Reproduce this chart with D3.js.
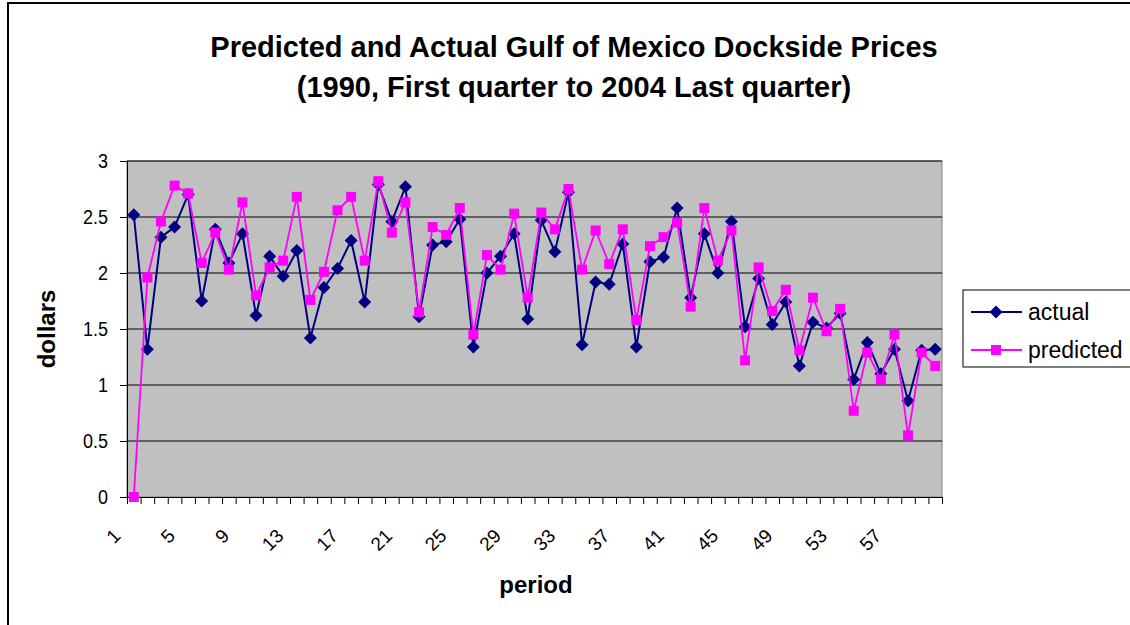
<!DOCTYPE html>
<html>
<head>
<meta charset="utf-8">
<script src="https://cdn.jsdelivr.net/npm/d3@7"></script>
<style>
  body { margin: 0; background: #fff; }
  text { font-family: "Liberation Sans", Arial, sans-serif; }
</style>
</head>
<body>
<script>
// data
const periods = d3.range(1, 61);
const tickLabels = periods.filter((p) => (p - 1) % 4 === 0);
const yTicks = [0, 0.5, 1, 1.5, 2, 2.5, 3];

const actual = [
  2.52, 1.32, 2.32, 2.41, 2.70, 1.75, 2.39, 2.09, 2.35, 1.62,
  2.15, 1.97, 2.20, 1.42, 1.87, 2.04, 2.29, 1.74, 2.79, 2.46,
  2.77, 1.61, 2.25, 2.28, 2.48, 1.34, 2.00, 2.15, 2.35, 1.59,
  2.47, 2.19, 2.72, 1.36, 1.92, 1.90, 2.26, 1.34, 2.10, 2.14,
  2.58, 1.78, 2.35, 2.00, 2.46, 1.52, 1.95, 1.54, 1.74, 1.17,
  1.56, 1.51, 1.64, 1.05, 1.38, 1.10, 1.32, 0.86, 1.31, 1.32
];
const predicted = [
  0.00, 1.96, 2.46, 2.78, 2.71, 2.09, 2.36, 2.03, 2.63, 1.80,
  2.05, 2.11, 2.68, 1.76, 2.01, 2.56, 2.68, 2.11, 2.82, 2.36,
  2.63, 1.65, 2.41, 2.34, 2.58, 1.45, 2.16, 2.03, 2.53, 1.78,
  2.54, 2.39, 2.75, 2.03, 2.38, 2.08, 2.39, 1.58, 2.24, 2.32,
  2.45, 1.70, 2.58, 2.11, 2.38, 1.22, 2.05, 1.66, 1.85, 1.31,
  1.78, 1.48, 1.68, 0.77, 1.29, 1.05, 1.45, 0.55, 1.29, 1.17
];

const width = 1130, height = 625;
const plot = { left: 127, right: 942, top: 161, bottom: 497 };

const svg = d3.select("body").append("svg")
  .attr("width", width)
  .attr("height", height);

// outer chart border (right and bottom fall outside the window)
svg.append("rect")
  .attr("x", 8).attr("y", 3)
  .attr("width", 1200).attr("height", 700)
  .attr("fill", "#fff")
  .attr("stroke", "#000")
  .attr("stroke-width", 2);

const x = d3.scaleLinear().domain([0.5, 60.5]).range([plot.left, plot.right]);
const y = d3.scaleLinear().domain([0, 3]).range([plot.bottom, plot.top]);

// plot area
svg.append("rect")
  .attr("x", plot.left).attr("y", plot.top)
  .attr("width", plot.right - plot.left)
  .attr("height", plot.bottom - plot.top)
  .attr("fill", "#c0c0c0")
  .attr("stroke", "#808080")
  .attr("stroke-width", 1);

// gridlines
svg.append("g")
  .selectAll("line")
  .data(yTicks.filter((t) => t > 0))
  .enter()
  .append("line")
  .attr("x1", plot.left).attr("x2", plot.right)
  .attr("y1", (d) => y(d)).attr("y2", (d) => y(d))
  .attr("stroke", "#000")
  .attr("stroke-width", 1);

// y axis
const yAxis = d3.axisLeft(y)
  .tickValues(yTicks)
  .tickSize(7)
  .tickSizeOuter(0)
  .tickPadding(12)
  .tickFormat((d) => String(d));
const gy = svg.append("g")
  .attr("transform", `translate(${plot.left},0)`)
  .call(yAxis);
gy.selectAll("text")
  .attr("font-size", 18)
  .attr("fill", "#000")
  .attr("transform", "scale(1,1.12)")
  .style("font-family", '"Liberation Sans", Arial, sans-serif');
gy.selectAll("line, path").attr("stroke", "#000");

// x axis: ticks between categories
const xAxis = d3.axisBottom(x)
  .tickValues(d3.range(0.5, 61, 1))
  .tickSize(7)
  .tickSizeOuter(0)
  .tickFormat("");
const gx = svg.append("g")
  .attr("transform", `translate(0,${plot.bottom})`)
  .call(xAxis);
gx.selectAll("line, path").attr("stroke", "#000");

// rotated category labels
svg.append("g")
  .selectAll("text")
  .data(tickLabels)
  .enter()
  .append("text")
  .attr("transform", (d) => `translate(${x(d) - 12},${plot.bottom + 40}) rotate(-45)`)
  .attr("text-anchor", "end")
  .attr("font-size", 19)
  .text((d) => d);

// series
const line = d3.line()
  .x((d, i) => x(periods[i]))
  .y((d) => y(d));

svg.append("path")
  .datum(actual)
  .attr("d", line)
  .attr("fill", "none")
  .attr("stroke", "#000080")
  .attr("stroke-width", 2);

svg.append("g")
  .selectAll("path")
  .data(actual)
  .enter()
  .append("path")
  .attr("d", (d, i) => {
    const cx = x(periods[i]), cy = y(d), r = 6.5;
    return `M${cx},${cy - r}L${cx + r},${cy}L${cx},${cy + r}L${cx - r},${cy}Z`;
  })
  .attr("fill", "#000080");

svg.append("path")
  .datum(predicted)
  .attr("d", line)
  .attr("fill", "none")
  .attr("stroke", "#ff00ff")
  .attr("stroke-width", 1.8);

svg.append("g")
  .selectAll("rect")
  .data(predicted)
  .enter()
  .append("rect")
  .attr("x", (d, i) => x(periods[i]) - 5)
  .attr("y", (d) => y(d) - 5)
  .attr("width", 10)
  .attr("height", 10)
  .attr("fill", "#ff00ff");

// titles
svg.append("text")
  .attr("x", 574).attr("y", 57)
  .attr("text-anchor", "middle")
  .attr("font-size", 29).attr("font-weight", "bold")
  .text("Predicted and Actual Gulf of Mexico Dockside Prices");
svg.append("text")
  .attr("x", 574).attr("y", 97)
  .attr("text-anchor", "middle")
  .attr("font-size", 29).attr("font-weight", "bold")
  .text("(1990, First quarter to 2004 Last quarter)");

svg.append("text")
  .attr("transform", `translate(47,${(plot.top + plot.bottom) / 2}) rotate(-90)`)
  .attr("text-anchor", "middle")
  .attr("dy", "0.35em")
  .attr("font-size", 24).attr("font-weight", "bold")
  .text("dollars");

svg.append("text")
  .attr("x", 536).attr("y", 593)
  .attr("text-anchor", "middle")
  .attr("font-size", 24).attr("font-weight", "bold")
  .text("period");

// legend
const legend = svg.append("g");
legend.append("rect")
  .attr("x", 963).attr("y", 290)
  .attr("width", 200).attr("height", 77)
  .attr("fill", "#fff")
  .attr("stroke", "#000")
  .attr("stroke-width", 1);

const legendItems = [
  { name: "actual", color: "#000080", shape: "diamond", y: 312 },
  { name: "predicted", color: "#ff00ff", shape: "square", y: 350 }
];
legendItems.forEach((it) => {
  legend.append("line")
    .attr("x1", 971).attr("x2", 1022)
    .attr("y1", it.y).attr("y2", it.y)
    .attr("stroke", it.color).attr("stroke-width", 2);
  if (it.shape === "diamond") {
    const cx = 996, cy = it.y, r = 6.5;
    legend.append("path")
      .attr("d", `M${cx},${cy - r}L${cx + r},${cy}L${cx},${cy + r}L${cx - r},${cy}Z`)
      .attr("fill", it.color);
  } else {
    legend.append("rect")
      .attr("x", 991).attr("y", it.y - 5)
      .attr("width", 10).attr("height", 10)
      .attr("fill", it.color);
  }
  legend.append("text")
    .attr("x", 1028).attr("y", it.y)
    .attr("dy", "0.35em")
    .attr("font-size", 23)
    .text(it.name);
});
</script>
</body>
</html>
